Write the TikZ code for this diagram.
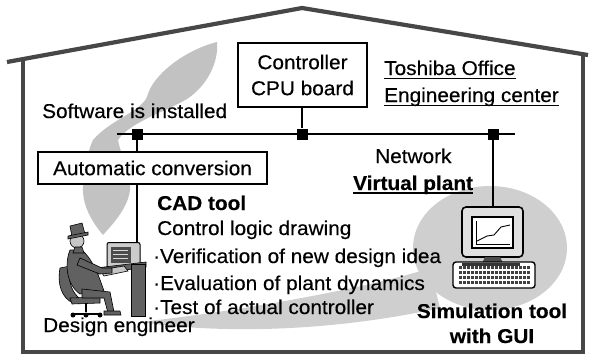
\documentclass[tikz,border=0pt]{standalone}
\usepackage{fontspec}
\setmainfont{Liberation Sans}[FakeStretch=1.04, FakeBold=0.35]
\newcommand\dtxt{\fontsize{20}{24}\selectfont}
\begin{document}
\begin{tikzpicture}[x=1pt,y=-1pt,
  wall/.style={draw=black!72, line width=4.2pt, line join=miter},
  box/.style={draw, line width=1.6pt, fill=white, inner sep=0pt, font=\dtxt},
  lbl/.style={inner sep=0pt, anchor=base west, font=\dtxt},
  blbl/.style={inner sep=0pt, anchor=base, font=\dtxt\bfseries},
  junc/.style={fill=black, inner sep=0pt, minimum size=11pt},
  net/.style={line width=2.2pt},
  link/.style={line width=1.6pt},
  swirl/.style={fill=black!24},
  figdark/.style={fill=black!62, draw=black, line width=0.6pt},
  figlight/.style={fill=black!22, draw=black, line width=0.6pt},
]
\useasboundingbox (0,0) rectangle (595,360);

% grey swirl in the background: leaf at the top left
\path[swirl] (217,42) .. controls (219,62) and (207,86) .. (187,99)
  .. controls (165,112) and (130,122) .. (118,140)
  .. controls (122,160) and (132,175) .. (130,190)
  .. controls (128,208) and (112,225) .. (103,235)
  .. controls (92,222) and (82,205) .. (83,187)
  .. controls (84,170) and (88,150) .. (93,140)
  .. controls (110,120) and (140,112) .. (147,97)
  .. controls (152,75) and (185,50) .. (217,42) -- cycle;
% round patch behind the simulation tool and its tail
\path[swirl, fill=black!19] (490,248) ellipse[x radius=77, y radius=62];
\path[swirl, fill=black!19] (430,268) .. controls (380,285) and (250,310) .. (140,322)
  .. controls (220,334) and (330,332) .. (440,308) -- cycle;

% building outline
\draw[wall] (7,62) -- (302,8) -- (588,55);
\draw[wall] (23,59) -- (23,352) -- (583,352) -- (583,54);

% network line and junctions
\coordinate (netL) at (117,134);
\coordinate (netR) at (515,134);
\draw[net] (netL) -- (netR);
\node[junc] (j1) at (137,134) {};
\node[junc] (j2) at (302,134) {};
\node[junc] (j3) at (493,134) {};

% boxes
\node[box, minimum width=129pt, minimum height=64pt, align=center] (cpu) at (302.5,75)
  {Controller\\[2pt]CPU board};
\node[box, minimum width=229pt, minimum height=32pt] (auto) at (152.5,168) {Automatic conversion};

% labels
\node[lbl] (soft) at (42,118) {Software is installed};
\node[lbl] (tosh) at (384,75) {Toshiba Office};
\node[lbl] (eng) at (384,102) {Engineering center};
\draw[line width=1pt] ([yshift=-3pt]tosh.base west) -- ([yshift=-3pt]tosh.base east);
\draw[line width=1pt] ([yshift=-3pt]eng.base west) -- ([yshift=-3pt]eng.base east);
\node[lbl] (netw) at (375,163) {Network};
\node[lbl, font=\dtxt\bfseries] (vp) at (353,190) {Virtual plant};
\draw[line width=1.2pt] ([yshift=-3pt]vp.base west) -- ([yshift=-3pt]vp.base east);
\node[lbl, font=\dtxt\bfseries] (cad) at (157,210) {CAD tool};
\node[lbl] (cld) at (157,235) {Control logic drawing};
\node[lbl] (b1) at (153,263) {·Verification of new design idea};
\node[lbl] (b2) at (153,290) {·Evaluation of plant dynamics};
\node[lbl] (b3) at (153,314) {·Test of actual controller};
\node[lbl] (de) at (43,332) {Design engineer};
\node[blbl] (sim) at (492,318) {Simulation tool};
\node[blbl] (gui) at (492,343) {with GUI};

% simulation computer
\node[draw, line width=1.6pt, rounded corners=4pt, fill=black!12,
  minimum width=61pt, minimum height=50pt, inner sep=0pt] (mon) at (492.5,232) {};
\node[draw, line width=1.4pt, fill=white, minimum width=41pt, minimum height=31pt,
  inner sep=0pt] (scr) at (492.5,232.5) {};
\draw[line width=0.9pt] (476,221) -- (476,244) -- (510,244);
\draw[line width=0.9pt] (477,241) -- (487,236) -- (494,235) -- (501,227) -- (510,225);
\fill[black!70] (485,257) -- (500,257) -- (503,263) -- (482,263) -- cycle;
\node[draw, line width=1.4pt, rounded corners=3pt, fill=white,
  minimum width=82pt, minimum height=26pt, inner sep=0pt] (kbd) at (494,275) {};
\foreach \r in {266,271,276,281} {
  \foreach \c in {0,...,17} {
    \fill[black!75] (459+\c*4,\r) rectangle ++(3,3.2);
  }
}
\fill[black!80] (462,263) rectangle (520,266);

% design engineer at his desk
\node[draw, line width=1pt, rounded corners=2pt, fill=black!20,
  minimum width=33pt, minimum height=25pt, inner sep=0pt] (emon) at (123.5,255) {};
\fill[black!70] (111,247) rectangle (131,263);
\foreach \yy in {250,254,258} \draw[black!15, line width=0.8pt] (113,\yy) -- (128,\yy);
\path[figdark] (96,268) -- (146,262) -- (146,267) -- (98,274) -- cycle;
\path[figdark] (131,264) rectangle (145,316);
\path[figlight] (100,270) -- (124,266) -- (128,271) -- (104,276) -- cycle;
% chair
\path[figdark] (60,268) .. controls (57,285) and (62,298) .. (73,303) -- (79,298)
  .. controls (70,290) and (68,278) .. (70,266) -- cycle;
\path[figdark] (70,298) -- (100,297) -- (100,303) -- (72,304) -- cycle;
\draw[line width=2.5pt] (86,303) -- (86,312);
\draw[line width=2.5pt] (73,314) -- (100,314);
\fill (73,315) circle (2.5) (86,315) circle (2.5) (100,315) circle (2.5);
% body
\path[figdark] (70,250) .. controls (64,265) and (67,285) .. (80,294) -- (104,291)
  .. controls (100,280) and (95,262) .. (82,250) -- cycle;
\path[figdark] (82,289) -- (110,292) -- (114,312) -- (108,313) -- (104,298) -- (82,298) -- cycle;
\path[figdark] (104,311) -- (120,311) -- (121,315) -- (104,315) -- cycle;
\path[figdark] (80,258) -- (102,268) -- (112,268) -- (112,273) -- (100,274) -- (77,265) -- cycle;
% head with hat
\path[figlight] (77,241) circle (7);
\path[figdark] (70,226) -- (82,223) -- (85,234) -- (72,237) -- cycle;
\path[figdark] (68,236) -- (88,232) -- (88,235) -- (68,239) -- cycle;
\path[figdark] (75,247) -- (82,247) -- (84,253) -- (73,253) -- cycle;

% connectors
\draw[link] (cpu.south -| j2) -- (j2);
\draw[link] (j1) -- (auto.north -| j1);
\draw[link] (auto.south -| j1) -- (emon.north -| j1);
\draw[link] (j3) -- (mon.north -| j3);
\end{tikzpicture}
\end{document}
